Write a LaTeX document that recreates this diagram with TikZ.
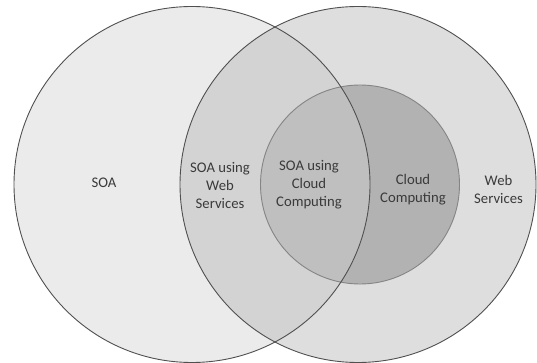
\documentclass[tikz,border=0pt]{standalone}
\usepackage{fontspec}
\setmainfont{Carlito}
\definecolor{cLeft}{HTML}{EBEBEB}
\definecolor{cRight}{HTML}{DEDEDE}
\definecolor{cLens}{HTML}{D3D3D3}
\definecolor{cInL}{HTML}{BFBFBF}
\definecolor{cInR}{HTML}{B2B2B2}
\definecolor{cEdge}{HTML}{505050}
\definecolor{cInEdge}{HTML}{858585}
\definecolor{cText}{HTML}{3A3A3A}
\tikzset{
  lbl/.style={align=center, text=cText, font=\fontsize{14.7}{18}\selectfont, inner sep=0pt},
  outeredge/.style={draw=cEdge, line width=0.9pt},
  inneredge/.style={draw=cInEdge, line width=0.9pt}
}
\begin{document}
\begin{tikzpicture}[x=1pt,y=-1pt]
\useasboundingbox (0,0) rectangle (537,363);
\coordinate (L) at (192,184.5);
\coordinate (R) at (358,184.5);
\coordinate (I) at (360,184.5);
\def\rO{178}
\def\rI{99.5}
% base fills
\fill[cLeft] (L) circle (\rO);
\fill[cRight] (R) circle (\rO);
\begin{scope}
  \clip (L) circle (\rO);
  \fill[cLens] (R) circle (\rO);
\end{scope}
\fill[cInR] (I) circle (\rI);
\begin{scope}
  \clip (L) circle (\rO);
  \fill[cInL] (I) circle (\rI);
\end{scope}
% outlines
\draw[inneredge] (I) circle (\rI);
\draw[outeredge] (L) circle (\rO);
\draw[outeredge] (R) circle (\rO);
% labels
\node[lbl] (soa) at (104,183) {SOA};
\node[lbl] (soaws) at (220,185) {SOA using\\Web\\Services};
\node[lbl] (soacc) at (309,185) {SOA using\\Cloud\\Computing};
\node[lbl] (cc) at (413,189.5) {Cloud\\Computing};
\node[lbl] (ws) at (498.5,189.5) {Web\\Services};
\end{tikzpicture}
\end{document}
